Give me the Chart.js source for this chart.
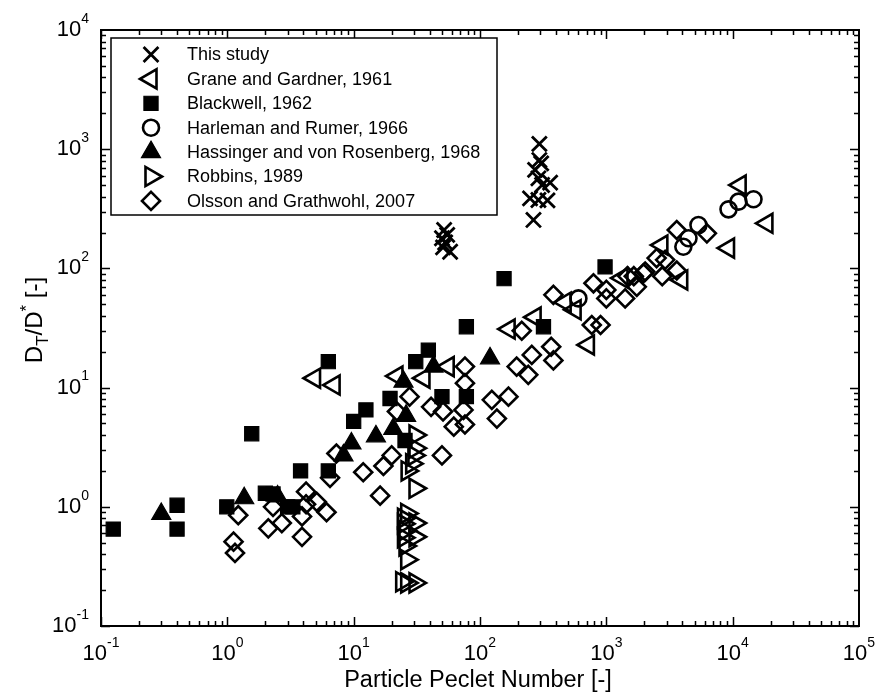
<!DOCTYPE html>
<html>
<head>
<meta charset="utf-8">
<script src="https://cdn.jsdelivr.net/npm/chart.js@4.4.1/dist/chart.umd.min.js"></script>
<style>
  html, body { margin: 0; padding: 0; background: #fff; }
  canvas { display: block; }
</style>
</head>
<body>
<canvas id="peclet-chart" width="875" height="692"></canvas>
<script>
// values: [Peclet number, DT/D*]
const thisStudy = [
  [295, 1107], [295, 811], [305, 760], [273, 670], [290, 570], [359, 524], [310, 501],
  [249, 387], [290, 375], [342, 372], [265, 255],
  [52, 210], [55, 191], [50, 179], [53, 165], [51, 150], [58, 138]
];
const graneGardner = [
  [4.9, 12], [7.0, 10.5], [22, 12.5], [36, 12], [56, 15], [170, 31], [273, 39], [472, 52],
  [566, 45], [721, 22.8], [1330, 83], [2750, 157], [3950, 80], [9270, 148], [11460, 500], [18660, 239]
];
const blackwell = [
  [0.125, 0.65], [0.40, 1.03], [0.40, 0.65], [0.99, 1.0], [1.56, 4.1], [2.0, 1.3], [2.3, 1.28],
  [3.0, 1.0], [3.3, 1.0], [3.8, 2.0], [6.3, 2.0], [6.3, 16.5], [10, 5.2], [12.5, 6.5], [19.4, 8.1],
  [25.5, 3.6], [31, 16.5], [39, 20.6], [50, 8.4], [78, 8.4], [78, 32.4], [155, 82], [318, 32.4], [977, 103]
];
const harleman = [
  [601, 56], [4070, 152], [4470, 179], [5360, 231], [9270, 313], [11120, 363], [14620, 380]
];
const hassinger = [
  [0.30, 0.87], [1.36, 1.18], [2.5, 1.22], [8.3, 2.7], [9.6, 3.4], [15, 3.9], [20.6, 4.5],
  [26, 5.8], [24.8, 11.2], [42.8, 15], [120, 17.6]
];
const robbins = [
  [30.6, 4.0], [30.6, 3.1], [30, 2.7], [28.8, 2.3], [26.5, 2.0], [30.6, 1.43], [26.3, 0.88],
  [24.8, 0.80], [30.6, 0.73], [24.8, 0.72], [25.5, 0.63], [30.6, 0.56], [24.8, 0.55], [25.5, 0.47],
  [26.3, 0.36], [24.0, 0.235], [26.3, 0.23], [30.6, 0.23]
];
const olsson = [
  [1.12, 0.51], [1.15, 0.41], [1.22, 0.85], [2.11, 0.66], [2.3, 1.0], [2.7, 0.73], [3.9, 0.56],
  [3.9, 0.83], [4.2, 1.34], [4.2, 1.05], [5.1, 1.1], [6.1, 0.9], [6.5, 1.75], [7.3, 2.8],
  [11.9, 1.95], [16.2, 1.24], [17.2, 2.2], [20, 2.7], [22, 6.3], [27.7, 8.4], [41, 6.9], [50, 2.7],
  [51, 6.3], [62, 4.7], [76, 4.9], [74, 6.5], [76, 10.9], [76, 15], [124, 7.9], [136, 5.5],
  [168, 8.4], [195, 15], [241, 12.8], [257, 18.8], [214, 30], [366, 22], [381, 16.9], [381, 60],
  [767, 33.5], [900, 33.5], [791, 75], [1000, 66], [1000, 56], [1409, 56], [1470, 86], [1650, 86],
  [1742, 70], [1968, 91], [2030, 94], [2500, 122], [2770, 86], [2920, 118], [3610, 96], [3610, 210],
  [6250, 197]
];

const seriesLabels = [
  'This study', 'Grane and Gardner, 1961', 'Blackwell, 1962', 'Harleman and Rumer, 1966',
  'Hassinger and von Rosenberg, 1968', 'Robbins, 1989', 'Olsson and Grathwohl, 2007'
];
const xTickExp = [-1, 0, 1, 2, 3, 4, 5];
const yTickExp = [-1, 0, 1, 2, 3, 4];

const FONT = '"Liberation Sans", Arial, sans-serif';
const toPts = arr => arr.map(p => ({ x: p[0], y: p[1] }));

// marker looks, shared by plot and legend
const markers = [
  { pointStyle: 'crossRot', rotation: 0, radius: 10.5, fill: false, lw: 2.8 },
  { pointStyle: 'triangle', rotation: -90, radius: 11, fill: false, lw: 2.6 },
  { pointStyle: 'rect', rotation: 0, radius: 10, fill: true, lw: 1.2 },
  { pointStyle: 'circle', rotation: 0, radius: 8, fill: false, lw: 2.6 },
  { pointStyle: 'triangle', rotation: 0, radius: 11, fill: true, lw: 1.2 },
  { pointStyle: 'triangle', rotation: 90, radius: 11, fill: false, lw: 2.6 },
  { pointStyle: 'rectRot', rotation: 0, radius: 9, fill: false, lw: 2.6 }
];
const allData = [thisStudy, graneGardner, blackwell, harleman, hassinger, robbins, olsson];

const datasets = allData.map((d, i) => ({
  label: seriesLabels[i],
  data: toPts(d),
  showLine: false,
  pointStyle: markers[i].pointStyle,
  pointRotation: markers[i].rotation,
  pointRadius: markers[i].radius,
  pointBorderWidth: markers[i].lw,
  pointBorderColor: '#000',
  pointBackgroundColor: markers[i].fill ? '#000' : 'rgba(0,0,0,0)'
}));

function drawMarker(ctx, m, x, y) {
  const r = m.radius;
  ctx.save();
  ctx.lineWidth = m.lw;
  ctx.strokeStyle = '#000';
  ctx.fillStyle = '#000';
  ctx.beginPath();
  if (m.pointStyle === 'crossRot') {
    const o = r * Math.SQRT1_2;
    ctx.moveTo(x - o, y - o); ctx.lineTo(x + o, y + o);
    ctx.moveTo(x - o, y + o); ctx.lineTo(x + o, y - o);
  } else if (m.pointStyle === 'triangle') {
    let rad = m.rotation * Math.PI / 180;
    ctx.moveTo(x + Math.sin(rad) * r, y - Math.cos(rad) * r);
    rad += 2 * Math.PI / 3;
    ctx.lineTo(x + Math.sin(rad) * r, y - Math.cos(rad) * r);
    rad += 2 * Math.PI / 3;
    ctx.lineTo(x + Math.sin(rad) * r, y - Math.cos(rad) * r);
    ctx.closePath();
  } else if (m.pointStyle === 'rect') {
    const s = r * Math.SQRT1_2;
    ctx.rect(x - s, y - s, 2 * s, 2 * s);
  } else if (m.pointStyle === 'circle') {
    ctx.arc(x, y, r, 0, Math.PI * 2);
  } else if (m.pointStyle === 'rectRot') {
    ctx.moveTo(x - r, y); ctx.lineTo(x, y - r); ctx.lineTo(x + r, y); ctx.lineTo(x, y + r);
    ctx.closePath();
  }
  if (m.fill) ctx.fill();
  ctx.stroke();
  ctx.restore();
}

// "10" with a superscript exponent; cy is the vertical centre of "10"
// anchor 'center' centres the whole label on x, 'right' ends it at x
function powLabel(ctx, exp, x, cy, anchor) {
  ctx.font = '22px ' + FONT;
  const bw = ctx.measureText('10').width;
  ctx.font = '14px ' + FONT;
  const ew = ctx.measureText(String(exp)).width;
  const left = anchor === 'center' ? x - (bw + ew) / 2 : x - (bw + ew);
  ctx.textBaseline = 'middle';
  ctx.textAlign = 'left';
  ctx.font = '22px ' + FONT;
  ctx.fillText('10', left, cy);
  ctx.font = '14px ' + FONT;
  ctx.fillText(String(exp), left + bw, cy - 11);
}

const framePlugin = {
  id: 'frame',
  afterDatasetsDraw(chart) {
    const { ctx, chartArea: a, scales } = chart;
    const xs = scales.x, ys = scales.y;
    ctx.save();
    ctx.strokeStyle = '#000';
    ctx.fillStyle = '#000';

    // minor + major ticks on all four sides, pointing inwards
    ctx.lineWidth = 1.5;
    ctx.beginPath();
    for (let e = -1; e < 5; e++) {
      for (let m = 1; m < 10; m++) {
        const px = Math.round(xs.getPixelForValue(m * Math.pow(10, e))) + 0.5;
        const len = m === 1 ? 9 : 5;
        ctx.moveTo(px, a.bottom); ctx.lineTo(px, a.bottom - len);
        ctx.moveTo(px, a.top); ctx.lineTo(px, a.top + len);
      }
    }
    for (let e = -1; e < 4; e++) {
      for (let m = 1; m < 10; m++) {
        const py = Math.round(ys.getPixelForValue(m * Math.pow(10, e))) + 0.5;
        const len = m === 1 ? 9 : 5;
        ctx.moveTo(a.left, py); ctx.lineTo(a.left + len, py);
        ctx.moveTo(a.right, py); ctx.lineTo(a.right - len, py);
      }
    }
    ctx.stroke();

    ctx.lineWidth = 2;
    ctx.strokeRect(a.left, a.top, a.right - a.left, a.bottom - a.top);

    // tick labels
    xTickExp.forEach(e => powLabel(ctx, e, xs.getPixelForValue(Math.pow(10, e)), a.bottom + 28, 'center'));
    yTickExp.forEach(e => powLabel(ctx, e, a.left - 12, ys.getPixelForValue(Math.pow(10, e)), 'right'));
    ctx.restore();

    // legend box
    ctx.save();
    const lx = a.left + 10, ly = a.top + 8, lw = 386, lh = 177;
    ctx.fillStyle = '#fff';
    ctx.fillRect(lx, ly, lw, lh);
    ctx.strokeStyle = '#000';
    ctx.lineWidth = 1.5;
    ctx.strokeRect(lx, ly, lw, lh);
    ctx.fillStyle = '#000';
    ctx.font = '18px ' + FONT;
    ctx.textBaseline = 'middle';
    ctx.textAlign = 'left';
    seriesLabels.forEach((lab, i) => {
      const rowY = ly + 16.5 + i * 24.4;
      drawMarker(ctx, markers[i], lx + 40, rowY);
      ctx.fillText(lab, lx + 76, rowY + 1);
    });
    ctx.restore();

    // axis titles
    ctx.save();
    ctx.fillStyle = '#000';
    ctx.textBaseline = 'alphabetic';
    ctx.font = '23.5px ' + FONT;
    ctx.textAlign = 'center';
    ctx.fillText('Particle Peclet Number [-]', (a.left + a.right) / 2 - 2, 687);

    ctx.translate(42, 320);
    ctx.rotate(-Math.PI / 2);
    const parts = [
      ['D', 24, 0], ['T', 17, 6], ['/D', 24, 0], ['*', 17, -10], [' [-]', 24, 0]
    ];
    let total = 0;
    parts.forEach(p => { ctx.font = p[1] + 'px ' + FONT; total += ctx.measureText(p[0]).width; });
    let cx = -total / 2;
    ctx.textAlign = 'left';
    parts.forEach(p => {
      ctx.font = p[1] + 'px ' + FONT;
      ctx.fillText(p[0], cx, p[2]);
      cx += ctx.measureText(p[0]).width;
    });
    ctx.restore();
  }
};

new Chart(document.getElementById('peclet-chart'), {
  type: 'scatter',
  data: { datasets },
  options: {
    responsive: false,
    animation: false,
    devicePixelRatio: 1,
    layout: { padding: { left: 101, top: 30, right: 16, bottom: 66 } },
    scales: {
      x: { type: 'logarithmic', min: 0.1, max: 100000, display: false },
      y: { type: 'logarithmic', min: 0.1, max: 10000, display: false }
    },
    plugins: {
      legend: { display: false },
      tooltip: { enabled: false }
    }
  },
  plugins: [framePlugin]
});
</script>
</body>
</html>
